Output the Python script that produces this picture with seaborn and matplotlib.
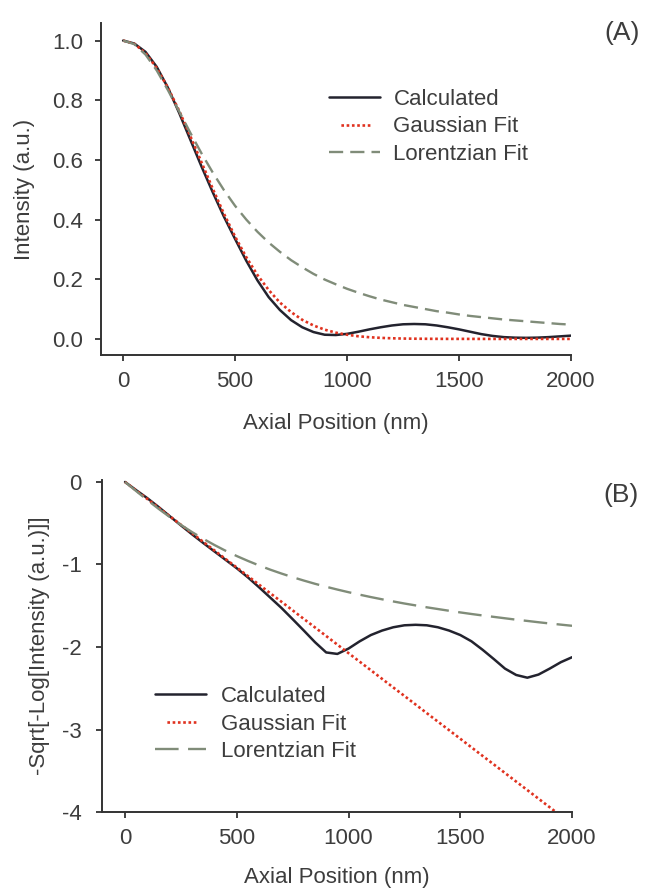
import matplotlib
matplotlib.use("Agg")
import matplotlib.pyplot as plt
from matplotlib.lines import Line2D
import seaborn as sns
import pandas as pd

# ---------------- data ----------------
axial_nm = [0, 50, 100, 150, 200, 250, 300, 350, 400, 450, 500, 550, 600, 650, 700,
            750, 800, 850, 900, 950, 1000, 1050, 1100, 1150, 1200, 1250, 1300, 1350,
            1400, 1450, 1500, 1550, 1600, 1650, 1700, 1750, 1800, 1850, 1900, 1950, 2000]

# Panel A: intensity
calc_a = [1.000, .990, .962, .912, .842, .758, .668, .578, .492, .410, .335, .262, .196,
          .140, .097, .063, .039, .023, .014, .013, .017, .024, .032, .039, .045, .049,
          .050, .049, .045, .039, .032, .024, .016, .010, .006, .0042, .0036, .0043,
          .0060, .0085, .011]
gauss_a = [1.000, .989, .958, .908, .842, .765, .680, .592, .504, .420, .343, .274, .214,
           .164, .122, .090, .064, .045, .031, .021, .014, .0089, .0056, .0035, .0021,
           .0012, .0007, .0004, .0002, .0001, .0001, 0, 0, 0, 0, 0, 0, 0, 0, 0, 0]
lorentz_a = [1.000, .988, .953, .900, .834, .763, .691, .622, .558, .499, .446, .400, .359,
             .323, .292, .264, .240, .218, .199, .183, .168, .155, .143, .132, .123, .114,
             .107, .100, .093, .088, .082, .077, .073, .069, .065, .062, .059, .056, .053,
             .050, .048]

# Panel B: -sqrt(-log(intensity))
calc_b = [0, -0.100, -0.197, -0.303, -0.415, -0.526, -0.635, -0.740, -0.842, -0.944,
          -1.046, -1.157, -1.277, -1.402, -1.527, -1.663, -1.801, -1.942, -2.066, -2.084,
          -2.019, -1.931, -1.855, -1.801, -1.761, -1.737, -1.731, -1.737, -1.761, -1.801,
          -1.855, -1.931, -2.034, -2.146, -2.262, -2.339, -2.372, -2.334, -2.262, -2.184,
          -2.124]
gauss_b = [0, -0.104, -0.207, -0.311, -0.415, -0.519, -0.622, -0.726, -0.830, -0.934,
           -1.037, -1.141, -1.245, -1.349, -1.452, -1.556, -1.660, -1.763, -1.867, -1.971,
           -2.075, -2.178, -2.282, -2.386, -2.490, -2.593, -2.697, -2.801, -2.905, -3.008,
           -3.112, -3.216, -3.320, -3.423, -3.527, -3.631, -3.734, -3.838, -3.942, -4.046,
           -4.149]
lorentz_b = [0, -0.111, -0.220, -0.325, -0.425, -0.520, -0.608, -0.689, -0.764, -0.834,
             -0.898, -0.957, -1.012, -1.063, -1.110, -1.154, -1.195, -1.234, -1.270, -1.304,
             -1.336, -1.366, -1.395, -1.422, -1.448, -1.473, -1.496, -1.519, -1.540, -1.561,
             -1.581, -1.600, -1.618, -1.635, -1.652, -1.669, -1.684, -1.700, -1.715, -1.729,
             -1.743]

series_names = ["Calculated", "Gaussian Fit", "Lorentzian Fit"]
x_ticks = [0, 500, 1000, 1500, 2000]
a_yticks = [0.0, 0.2, 0.4, 0.6, 0.8, 1.0]
b_yticks = [0, -1, -2, -3, -4]
b_yticklabels = ["0", "-1", "-2", "-3", "-4"]

# ---------------- style ----------------
sns.set_theme(style="ticks")
TXT = "#3d3d3d"
plt.rcParams["font.family"] = ["Liberation Sans", "DejaVu Sans"]
plt.rcParams["axes.unicode_minus"] = False
plt.rcParams.update({
    "text.color": TXT, "axes.labelcolor": TXT,
    "xtick.color": "#333333", "ytick.color": "#333333",
    "xtick.labelcolor": TXT, "ytick.labelcolor": TXT,
    "axes.edgecolor": "#333333",
})

C_CALC = "#23232e"
C_GAUSS = "#e0321f"
C_LOR = "#808c79"
FS = 16
LW_CALC, LW_GAUSS, LW_LOR = 1.8, 1.9, 1.7
# legend dotted handle: six dots centred in the handle, as in the reference
GAUSS_LEGEND_STYLE = (15.0, (1, 1, 1, 1, 1, 1, 1, 1, 1, 1, 1, 8.5))

fig = plt.figure(figsize=(6.49, 8.9), dpi=100)
axA = fig.add_axes([0.1552, 0.6011, 0.7246, 0.3731])
axB = fig.add_axes([0.1572, 0.0876, 0.7242, 0.3731])

dfA = pd.DataFrame({"x": axial_nm, "calc": calc_a, "gauss": gauss_a, "lor": lorentz_a})
dfB = pd.DataFrame({"x": axial_nm, "calc": calc_b, "gauss": gauss_b, "lor": lorentz_b})


def draw(ax, df, lor_dash):
    sns.lineplot(data=df, x="x", y="calc", ax=ax, color=C_CALC, lw=LW_CALC,
                 errorbar=None, legend=False)
    sns.lineplot(data=df, x="x", y="gauss", ax=ax, color=C_GAUSS, lw=LW_GAUSS,
                 linestyle=(0, (1, 1)), errorbar=None, legend=False)
    sns.lineplot(data=df, x="x", y="lor", ax=ax, color=C_LOR, lw=LW_LOR,
                 linestyle=(0, lor_dash), errorbar=None, legend=False)
    sns.despine(ax=ax)
    for s in ("left", "bottom"):
        ax.spines[s].set_linewidth(1.4)
    ax.tick_params(axis="both", length=4.5, width=1.3, labelsize=FS)
    ax.tick_params(axis="x", pad=7)
    ax.set_xticks(x_ticks)
    ax.set_xticklabels([str(t) for t in x_ticks])


def legend_handles(lor_dash):
    return [
        Line2D([], [], color=C_CALC, lw=LW_CALC),
        Line2D([], [], color=C_GAUSS, lw=LW_GAUSS, linestyle=GAUSS_LEGEND_STYLE),
        Line2D([], [], color=C_LOR, lw=LW_LOR, linestyle=(0, lor_dash)),
    ]


draw(axA, dfA, (6, 3))
draw(axB, dfB, (10, 4))

leg_kw = dict(bbox_transform=fig.transFigure, frameon=False, fontsize=FS,
              handlelength=2.3, labelspacing=0.3, borderpad=0, borderaxespad=0,
              loc="center left")

# Panel A axes
axA.set_xlim(-100, 2000)
axA.set_ylim(-0.054, 1.059)
axA.set_yticks(a_yticks)
axA.set_yticklabels([f"{v:.1f}" for v in a_yticks])
axA.tick_params(axis="y", pad=8)
axA.set_xlabel("Axial Position (nm)", fontsize=FS, va="center")
axA.xaxis.set_label_coords(0.5, -0.205)
axA.set_ylabel("Intensity (a.u.)", fontsize=FS, va="center")
axA.yaxis.set_label_coords(-0.163, 0.5)
axA.legend(legend_handles((6, 3)), series_names,
           bbox_to_anchor=(329 / 649, 1 - 127 / 890), handletextpad=0.6, **leg_kw)

# Panel B axes
axB.set_xlim(-103, 2000)
axB.set_ylim(-4, 0.024)
axB.set_yticks(b_yticks)
axB.set_yticklabels(b_yticklabels)
axB.tick_params(axis="y", pad=10)
axB.set_xlabel("Axial Position (nm)", fontsize=FS, va="center")
axB.xaxis.set_label_coords(0.5, -0.196)
axB.set_ylabel("-Sqrt[-Log[Intensity (a.u.)]]", fontsize=FS, va="center")
axB.yaxis.set_label_coords(-0.134, 0.5)
axB.legend(legend_handles((10, 4)), series_names,
           bbox_to_anchor=(155 / 649, 1 - 724 / 890), handletextpad=0.65, **leg_kw)

fig.text(622 / 649, 1 - 33 / 890, "(A)", fontsize=19, ha="center", va="center", color=TXT)
fig.text(621 / 649, 1 - 495 / 890, "(B)", fontsize=19, ha="center", va="center", color=TXT)

fig.savefig("out.png", dpi=100)
